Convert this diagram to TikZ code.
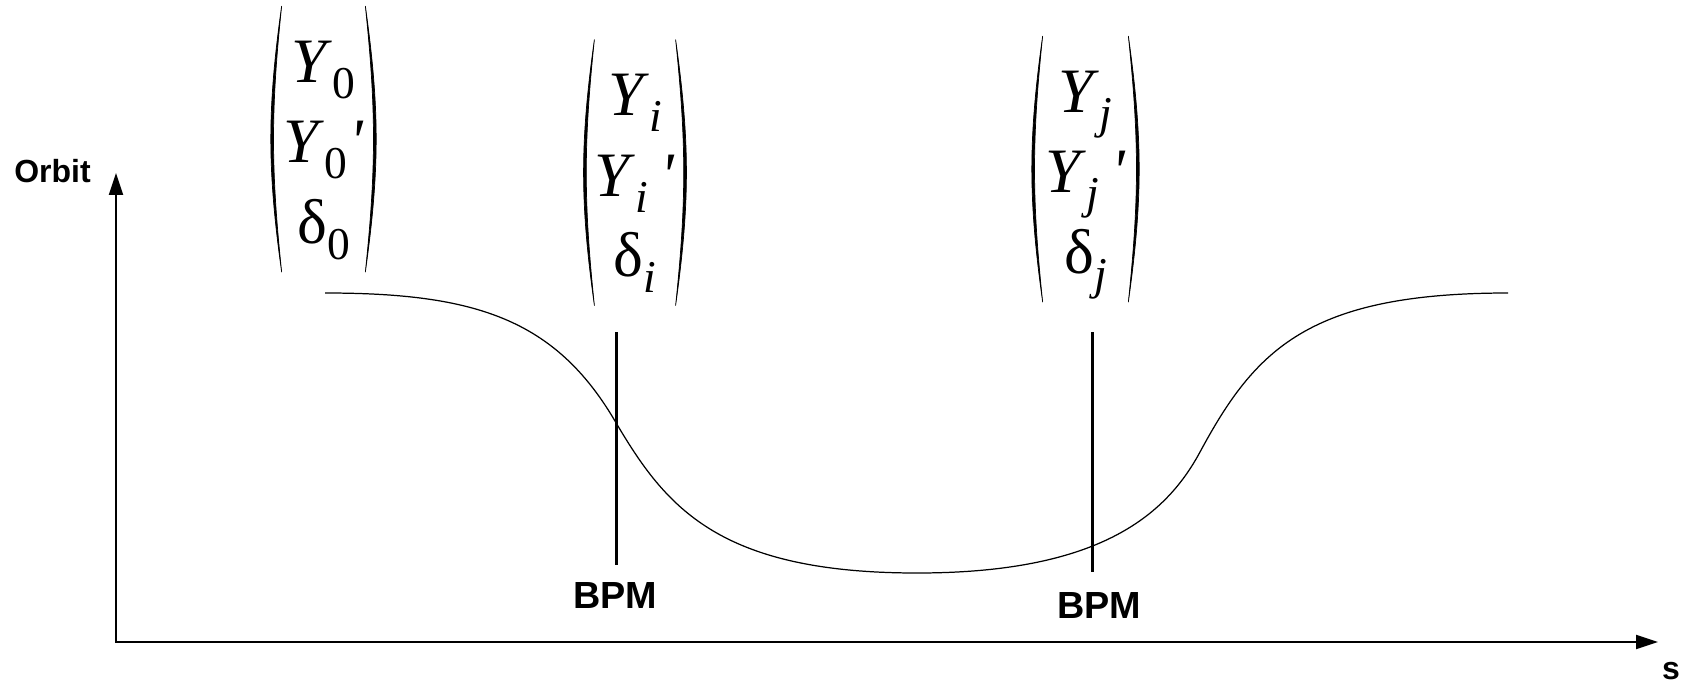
\documentclass[tikz,border=0pt]{standalone}
\usepackage{fontspec}
\usepackage{graphicx}
\setmainfont{Liberation Serif}
\setsansfont{Liberation Sans}
\usetikzlibrary{arrows.meta, positioning}

\newcommand{\vsub}[1]{\raisebox{-0.25em}{\scalebox{0.72}{#1}}}
\newcommand{\vsubprime}[1]{\raisebox{-0.25em}{\makebox[0.4em][l]{\scalebox{0.72}{#1}}}\textit{\textquotesingle}}

\begin{document}
\begin{tikzpicture}[
			x=0.02cm, y=-0.02cm,
			vecbox/.style={
				rectangle,
				inner sep=0pt,
				minimum height=5.24cm,
				align=center,
				font=\fontsize{36}{45.8}\selectfont
			},
			paren/.style={fill=black, draw=black, line width=0.4pt, line join=round},
			axis/.style={line width=1.1pt, {Triangle[length=0.44cm, width=0.28cm]}-{Triangle[length=0.44cm, width=0.28cm]}},
			orbitline/.style={line width=0.7pt},
			bpmline/.style={line width=1.7pt},
			bpmlabel/.style={font=\sffamily\bfseries\fontsize{21.5}{25}\selectfont, inner sep=0pt},
			axislabel/.style={font=\sffamily\bfseries\fontsize{18.2}{22}\selectfont, inner sep=0pt}
			]
			\useasboundingbox (0,0) rectangle (1687,683);
			
			% -------- Axes --------
			\coordinate (origin) at (116,642);
			\coordinate (ytip) at (116,173);
			\coordinate (xtip) at (1658,642);
			\draw[axis] (ytip) -- (origin) -- (xtip);
			\node[axislabel, anchor=base] (orbit) at (52.5,182) {Orbit};
			\node[axislabel, anchor=base] (slabel) at (1671,679) {s};
			
			% -------- Orbit --------
			\draw[orbitline] (325,293) .. controls (475,293) and (555,319) .. (615,421)
				.. controls (665,506) and (717,573) .. (917,573)
				.. controls (1097,573) and (1165,517) .. (1200,452)
				.. controls (1255,350) and (1308,293) .. (1508,293);
			
			% -------- BPMs --------
			\coordinate (b1top) at (616,332);
			\coordinate (b1bot) at (616,565);
			\coordinate (b2top) at (1092,332);
			\coordinate (b2bot) at (1092,572);
			\draw[bpmline] (b1top) -- (b1bot);
			\draw[bpmline] (b2top) -- (b2bot);
			\node[bpmlabel, anchor=base] (bpm1) at (615,608) {BPM};
			\node[bpmlabel, anchor=base] (bpm2) at (1099,618) {BPM};
			
			% -------- Vectors --------
			\node[vecbox, minimum width=1.66cm] (v0) at (323.5,139)
				{\rule{0pt}{1.2em}\textit{Y}\vsub{0}\\\textit{Y}\vsubprime{0}\\δ\vsub{0}\rule[-0.45em]{0pt}{0.45em}};
			\node[vecbox, minimum width=1.52cm] (vi) at (635,172.5)
				{\rule{0pt}{1.2em}\textit{Y}\vsub{\textit{i}}\\\textit{Y}\vsubprime{\textit{i}}\\δ\vsub{\textit{i}}\rule[-0.45em]{0pt}{0.45em}};
			\node[vecbox, minimum width=1.7cm] (vj) at (1085.5,169)
				{\rule{0pt}{1.2em}\textit{Y}\vsub{\textit{j}}\\\textit{Y}\vsubprime{\textit{j}}\\δ\vsub{\textit{j}}\rule[-0.45em]{0pt}{0.45em}};
			
			% parentheses (y axis points down, so bends are mirrored)
			\filldraw[paren] (v0.north west) to[bend right=8] (v0.south west) to[bend left=6] (v0.north west);
			\filldraw[paren] (v0.north east) to[bend left=8] (v0.south east) to[bend right=6] (v0.north east);
			\filldraw[paren] (vi.north west) to[bend right=8] (vi.south west) to[bend left=6] (vi.north west);
			\filldraw[paren] (vi.north east) to[bend left=8] (vi.south east) to[bend right=6] (vi.north east);
			\filldraw[paren] (vj.north west) to[bend right=8] (vj.south west) to[bend left=6] (vj.north west);
			\filldraw[paren] (vj.north east) to[bend left=8] (vj.south east) to[bend right=6] (vj.north east);
			
	\end{tikzpicture}
\end{document}
